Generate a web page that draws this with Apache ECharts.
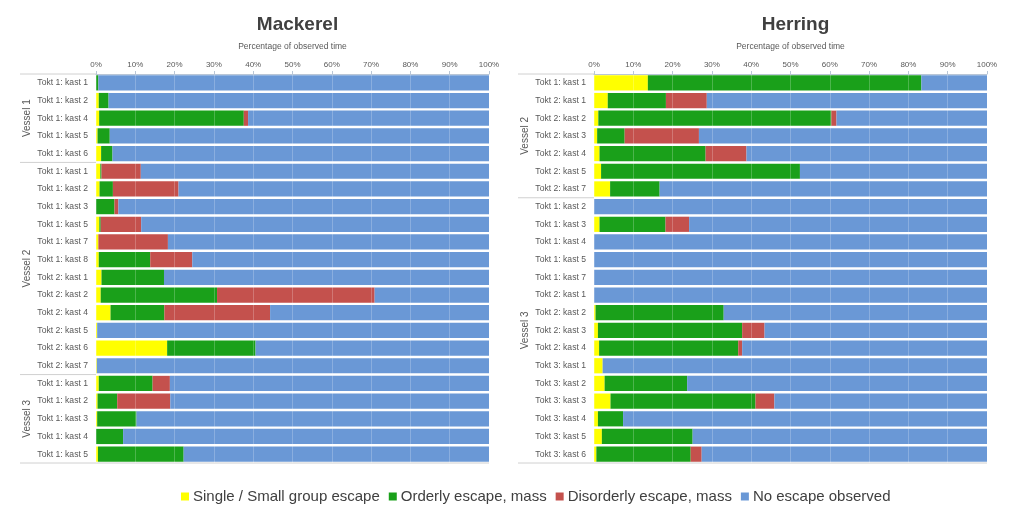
<!DOCTYPE html>
<html>
<head>
<meta charset="utf-8">
<script src="https://cdn.jsdelivr.net/npm/echarts@6/dist/echarts.min.js"></script>
<style>
html,body{margin:0;padding:0;background:#fff;}
#c{width:1024px;height:512px;}
</style>
</head>
<body>
<div id="c"></div>
<script>
// ---------- DATA ----------
const seriesNames = ['Single / Small group escape', 'Orderly escape, mass', 'Disorderly escape, mass', 'No escape observed'];
const seriesColors = ['#ffff00', '#1aa01a', '#c4514d', '#6a98d6'];

const mackerelCats = [
  'Tokt 1: kast 1','Tokt 1: kast 2','Tokt 1: kast 4','Tokt 1: kast 5','Tokt 1: kast 6',
  'Tokt 1: kast 1','Tokt 1: kast 2','Tokt 1: kast 3','Tokt 1: kast 5','Tokt 1: kast 7','Tokt 1: kast 8',
  'Tokt 2: kast 1','Tokt 2: kast 2','Tokt 2: kast 4','Tokt 2: kast 5','Tokt 2: kast 6','Tokt 2: kast 7',
  'Tokt 1: kast 1','Tokt 1: kast 2','Tokt 1: kast 3','Tokt 1: kast 4','Tokt 1: kast 5'
];
const mackerelGroups = ['Vessel 1', 'Vessel 2', 'Vessel 3'];
const mackerelGroupSizes = [5, 12, 5];
const mackerelSingle    = [0, 0.7, 0.8, 0.4, 1.3, 1.1, 0.9, 0, 0.85, 0.6, 0.7, 1.4, 1.2, 3.7, 0.3, 18.1, 0.2, 0.7, 0.4, 0.3, 0, 0.5];
const mackerelOrderly   = [0.6, 2.5, 36.8, 3.1, 2.9, 0.3, 3.4, 4.7, 0.35, 0, 13.1, 15.9, 29.6, 13.7, 0, 22.5, 0, 13.7, 5.0, 10.0, 6.9, 21.8];
const mackerelDisorderly= [0, 0, 1.1, 0, 0, 10.0, 16.7, 1.0, 10.3, 17.7, 10.7, 0, 40.1, 26.9, 0, 0, 0, 4.4, 13.5, 0, 0, 0];
const mackerelNone      = [99.4, 96.8, 61.3, 96.5, 95.8, 88.6, 79.0, 94.3, 88.5, 81.7, 75.5, 82.7, 29.1, 55.7, 99.7, 59.4, 99.8, 81.2, 81.1, 89.7, 93.1, 77.7];

const herringCats = [
  'Tokt 1: kast 1','Tokt 2: kast 1','Tokt 2: kast 2','Tokt 2: kast 3','Tokt 2: kast 4','Tokt 2: kast 5','Tokt 2: kast 7',
  'Tokt 1: kast 2','Tokt 1: kast 3','Tokt 1: kast 4','Tokt 1: kast 5','Tokt 1: kast 7',
  'Tokt 2: kast 1','Tokt 2: kast 2','Tokt 2: kast 3','Tokt 2: kast 4',
  'Tokt 3: kast 1','Tokt 3: kast 2','Tokt 3: kast 3','Tokt 3: kast 4','Tokt 3: kast 5','Tokt 3: kast 6'
];
const herringGroups = ['Vessel 2', 'Vessel 3'];
const herringGroupSizes = [7, 15];
const herringSingle     = [13.7, 3.5, 1.1, 0.8, 1.4, 1.8, 4.1, 0, 1.4, 0, 0, 0, 0, 0.4, 1.0, 1.3, 2.2, 2.7, 4.2, 1.0, 2.0, 0.6];
const herringOrderly    = [69.6, 14.8, 59.3, 7.0, 27.0, 50.6, 12.6, 0, 16.8, 0, 0, 0, 0, 32.6, 36.7, 35.4, 0, 21.0, 36.9, 6.4, 23.1, 24.0];
const herringDisorderly = [0, 10.4, 1.3, 18.9, 10.4, 0, 0, 0, 6.0, 0, 0, 0, 0, 0, 5.7, 1.0, 0, 0, 4.8, 0, 0, 2.8];
const herringNone       = [16.7, 71.3, 38.3, 73.3, 61.2, 47.6, 83.3, 100, 75.8, 100, 100, 100, 100, 67.0, 56.6, 62.3, 97.8, 76.3, 54.1, 92.6, 74.9, 72.6];

const panelTitles = ['Mackerel', 'Herring'];
const axisTitle = 'Percentage of observed time';

// ---------- CHART ----------
const FONT = '"Liberation Sans", Arial, sans-serif';
const chart = echarts.init(document.getElementById('c'), null, {renderer: 'canvas'});

const grids = [
  {left: 96, top: 74, width: 393, height: 389},
  {left: 594, top: 74, width: 393, height: 389}
];

function xAxisDef(i) {
  return {
    type: 'value', gridIndex: i, position: 'top', min: 0, max: 100, interval: 10,
    z: 10,
    name: axisTitle, nameLocation: 'middle', nameGap: 23,
    nameTextStyle: {fontFamily: FONT, fontSize: 8.5, color: '#595959'},
    axisLine: {show: true, lineStyle: {color: '#b9c6d6', width: 1}},
    axisTick: {show: true, length: 3, lineStyle: {color: '#b9c6d6'}},
    axisLabel: {formatter: '{value}%', fontFamily: FONT, fontSize: 8, color: '#595959', margin: 5},
    splitLine: {show: true, lineStyle: {color: 'rgba(255,255,255,0.22)', width: 1}}
  };
}
function yAxisDef(i, cats) {
  return {
    type: 'category', gridIndex: i, data: cats, inverse: true,
    axisLine: {show: false}, axisTick: {show: false},
    axisLabel: {fontFamily: FONT, fontSize: 8.6, color: '#595959', margin: 8}
  };
}

const panelData = [
  [mackerelSingle, mackerelOrderly, mackerelDisorderly, mackerelNone],
  [herringSingle, herringOrderly, herringDisorderly, herringNone]
];
const series = [];
panelData.forEach((arrs, p) => {
  arrs.forEach((vals, k) => {
    series.push({
      name: seriesNames[k], type: 'bar', stack: 'p' + p,
      xAxisIndex: p, yAxisIndex: p,
      data: vals, barCategoryGap: '14%',
      itemStyle: {color: seriesColors[k]},
      emphasis: {disabled: true},
      silent: true
    });
  });
});

chart.setOption({
  animation: false,
  backgroundColor: '#ffffff',
  color: seriesColors,
  title: panelTitles.map((t, i) => ({
    text: t, left: grids[i].left + grids[i].width / 2, top: 10, textAlign: 'center',
    textStyle: {fontFamily: FONT, fontSize: 19, fontWeight: 'bold', color: '#404040'}
  })),
  legend: {
    data: seriesNames, left: 176, top: 484, icon: 'rect', itemWidth: 8, itemHeight: 8, itemGap: 9,
    textStyle: {fontFamily: FONT, fontSize: 15, color: '#404040', padding: [0, 0, 0, -1]},
    selectedMode: false
  },
  grid: grids,
  xAxis: [xAxisDef(0), xAxisDef(1)],
  yAxis: [yAxisDef(0, mackerelCats), yAxisDef(1, herringCats)],
  series: series
});

// ---------- group labels & separators (positions from the axes) ----------
function groupGraphics(p, groups, sizes, lineStartX, labelX) {
  const els = [];
  const c0 = chart.convertToPixel({yAxisIndex: p}, 0);
  const c1 = chart.convertToPixel({yAxisIndex: p}, 1);
  const step = c1 - c0;
  const gl = grids[p].left;
  const bound = i => c0 - step / 2 + i * step;
  let start = 0;
  els.push({type: 'line', shape: {x1: lineStartX, y1: bound(0), x2: gl, y2: bound(0)}, style: {stroke: '#d0d0d0', lineWidth: 1}, silent: true});
  groups.forEach((g, gi) => {
    const end = start + sizes[gi];
    const yEnd = bound(end);
    const isLast = gi === groups.length - 1;
    els.push({type: 'line', shape: {x1: lineStartX, y1: yEnd, x2: isLast ? gl + grids[p].width : gl, y2: yEnd}, style: {stroke: '#d0d0d0', lineWidth: 1}, silent: true});
    const mid = (bound(start) + yEnd) / 2;
    els.push({type: 'text', x: labelX, y: mid, rotation: Math.PI / 2,
      style: {text: g, fontFamily: FONT, fontSize: 10, fill: '#595959', align: 'center', verticalAlign: 'middle'}, silent: true});
    start = end;
  });
  return els;
}
chart.setOption({
  graphic: [].concat(
    groupGraphics(0, mackerelGroups, mackerelGroupSizes, 20, 27),
    groupGraphics(1, herringGroups, herringGroupSizes, 518, 525)
  )
});
</script>
</body>
</html>
